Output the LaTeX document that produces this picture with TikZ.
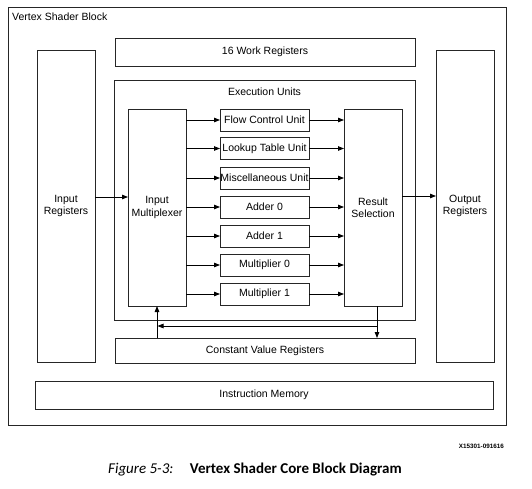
\documentclass[tikz,border=0pt]{standalone}
\usepackage{fontspec}
\setmainfont{Liberation Sans}
\newfontfamily\capfont{Carlito}
\usetikzlibrary{arrows.meta}
\begin{document}
\begin{tikzpicture}[x=1pt,y=-1pt,
  box/.style={draw=black!85, line width=0.9pt, inner sep=0pt, outer sep=0pt, align=center, font=\fontsize{10.5}{12.5}\selectfont},
  arr/.style={draw=black, line width=0.8pt, -{Triangle[length=6pt,width=4.5pt]}},
  lbl/.style={inner sep=0pt, font=\fontsize{10.5}{12.5}\selectfont}]
\useasboundingbox (0,0) rectangle (532,488);
% outer
\node[box, minimum width=498, minimum height=418] (outer) at (257,216) {};
\node[lbl, anchor=north west] (outerlbl) at (12,13) {Vertex Shader Block};
\node[box, minimum width=300, minimum height=28] (work) at (265,52) {16 Work Registers};
\node[box, minimum width=301, minimum height=240] (exec) at (264.5,200) {};
\node[lbl] (execlbl) at (264.5,92) {Execution Units};
\node[box, minimum width=58, minimum height=312] (inreg) at (66,206) {Input\\Registers};
\node[box, minimum width=58, minimum height=312] (outreg) at (465,206) {Output\\Registers};
\node[box, minimum width=58, minimum height=197] (mux) at (157,207.5) {Input\\Multiplexer};
\node[box, minimum width=58, minimum height=197] (res) at (373,207.5) {Result\\Selection};
\node[box, minimum width=89, minimum height=22] (u1) at (264.5,120) {Flow Control Unit};
\node[box, minimum width=89, minimum height=22] (u2) at (264.5,148.5) {Lookup Table Unit};
\node[box, minimum width=89, minimum height=22] (u3) at (264.5,178) {Miscellaneous Unit};
\node[box, minimum width=89, minimum height=22] (u4) at (264.5,207) {Adder 0};
\node[box, minimum width=89, minimum height=22] (u5) at (264.5,236) {Adder 1};
\node[box, minimum width=89, minimum height=22] (u6) at (264.5,265) {Multiplier 0};
\node[box, minimum width=89, minimum height=22] (u7) at (264.5,294) {Multiplier 1};
\node[box, minimum width=300, minimum height=25] (const) at (265,350.5) {Constant Value Registers};
\node[box, minimum width=458, minimum height=28] (instr) at (264,395) {Instruction Memory};
% unit arrows
\foreach \u in {u1,u2,u3,u4,u5,u6,u7}{
  \draw[arr] (mux.east |- \u.west) -- (\u.west);
  \draw[arr] (\u.east) -- (res.west |- \u.east);
}
% in/out arrows
\coordinate (inY) at (0,197);
\coordinate (outY) at (0,196);
\draw[arr] (inreg.east |- inY) -- (mux.west |- inY);
\draw[arr] (res.east |- outY) -- (outreg.west |- outY);
% feedback
\coordinate (fbX) at (377,0);
\coordinate (fbR) at (377,326);
\coordinate (fbL) at (157.5,326);
\draw[arr] (res.south -| fbX) -- (const.north -| fbX);
\draw[arr] (fbR) -- (fbL);
\draw[arr] (const.north -| mux.south) -- (mux.south);
% labels
\node[inner sep=0pt, anchor=east, font=\bfseries\fontsize{6.3}{7}\selectfont] (code) at (504,446) {X15301-091616};
\node[inner sep=0pt, font=\capfont\fontsize{15}{17}\selectfont] (cap) at (255,470) {\textit{Figure 5-3:}\hspace{1.1em}\textbf{Vertex Shader Core Block Diagram}};
\end{tikzpicture}
\end{document}
